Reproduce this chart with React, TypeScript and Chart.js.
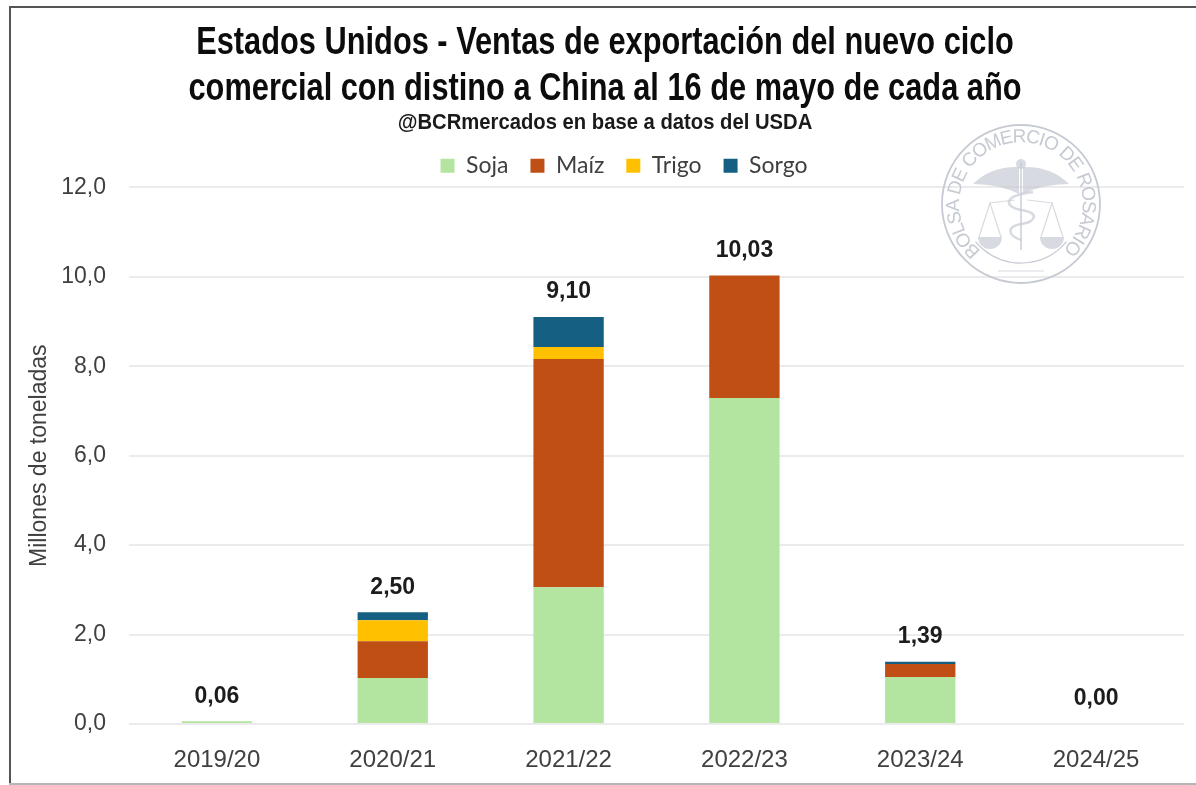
import React, { useEffect, useRef } from "react";
import { Chart, registerables } from "chart.js";

Chart.register(...registerables);

const categories = ["2019/20", "2020/21", "2021/22", "2022/23", "2023/24", "2024/25"];
const soja = [0.06, 1.03, 3.06, 7.29, 1.05, 0];
const maiz = [0, 0.82, 5.10, 2.74, 0.29, 0];
const trigo = [0, 0.47, 0.27, 0, 0, 0];
const sorgo = [0, 0.18, 0.67, 0, 0.05, 0];
const totals = [0.06, 2.5, 9.1, 10.03, 1.39, 0];
const titleLines = [
  "Estados Unidos - Ventas de exportación del nuevo ciclo",
  "comercial con distino a China al 16 de mayo de cada año",
];
const subtitleText = "@BCRmercados en base a datos del USDA";
const sealText = "BOLSA DE COMERCIO DE ROSARIO";

const comma = (v: number, d: number) => v.toFixed(d).replace(".", ",");

// Draw a native title box horizontally condensed about its own centre.
function condense(box: any, k: number) {
  if (!box || box.__condensed) return;
  box.__condensed = true;
  const draw = box.draw.bind(box);
  box.draw = () => {
    const c = box.ctx;
    const mid = (box.left + box.right) / 2;
    c.save();
    c.translate(mid, 0);
    c.scale(k, 1);
    c.translate(-mid, 0);
    draw();
    c.restore();
  };
}

const framePlugin = {
  id: "frame",
  beforeDraw(chart: any) {
    const c = chart.ctx;
    c.save();
    c.fillStyle = "#fff";
    c.fillRect(0, 0, chart.width, chart.height);
    c.fillStyle = "#555";
    c.fillRect(9, 6, chart.width - 9, 2);
    c.fillRect(9, 6, 2, 778);
    c.fillStyle = "#b5b5b5";
    c.fillRect(9, 783, chart.width - 9, 2);
    c.restore();
  },
  afterLayout(chart: any) {
    chart.legend.left += 19;
    chart.legend.right += 19;
    condense(chart.titleBlock, 0.81);
    const sub = chart.boxes.find((b: any) => b.options && b.options.text === subtitleText);
    condense(sub, 0.92);
  },
};

const sealPlugin = {
  id: "seal",
  afterDatasetsDraw(chart: any) {
    const c = chart.ctx;
    const cx = 1021;
    const cy = 204;
    const col = "#c6cad3";
    c.save();
    c.strokeStyle = col;
    c.fillStyle = col;
    c.lineWidth = 1.8;
    c.beginPath();
    c.arc(cx, cy, 79, 0, Math.PI * 2);
    c.stroke();
    c.lineWidth = 1.2;
    c.beginPath();
    c.arc(cx, cy, 59, Math.PI * 0.22, Math.PI * 0.78);
    c.stroke();
    c.font = "19px 'Liberation Sans'";
    c.textAlign = "center";
    c.textBaseline = "middle";
    const r = 67;
    const arcLen = (276 * Math.PI * r) / 180;
    const chars = sealText.split("");
    const widths = chars.map((ch) => c.measureText(ch).width);
    const sum = widths.reduce((a, b) => a + b, 0);
    const gap = (arcLen - sum) / (chars.length - 1);
    let pos = 0;
    chars.forEach((ch, i) => {
      const a = (-139 * Math.PI) / 180 + (pos + widths[i] / 2) / r;
      c.save();
      c.translate(cx + r * Math.sin(a), cy - r * Math.cos(a));
      c.rotate(a);
      c.fillText(ch, 0, 0);
      c.restore();
      pos += widths[i] + gap;
    });
    c.globalAlpha = 0.7;
    for (const s of [-1, 1]) {
      c.beginPath();
      c.moveTo(cx + s * 2, cy - 37);
      c.quadraticCurveTo(cx + s * 30, cy - 38, cx + s * 48, cy - 20);
      c.quadraticCurveTo(cx + s * 22, cy - 20, cx + s * 2, cy - 10);
      c.closePath();
      c.fill();
      c.lineWidth = 1.2;
      c.beginPath();
      c.moveTo(cx + s * 6, cy - 4);
      c.lineTo(cx + s * 32, cy - 1);
      c.moveTo(cx + s * 31, cy - 1);
      c.lineTo(cx + s * 20, cy + 33);
      c.moveTo(cx + s * 31, cy - 1);
      c.lineTo(cx + s * 42, cy + 33);
      c.stroke();
      c.beginPath();
      c.arc(cx + s * 31, cy + 33, 12, 0, Math.PI);
      c.closePath();
      c.fill();
    }
    c.lineWidth = 2;
    c.beginPath();
    c.moveTo(cx, cy - 42);
    c.lineTo(cx, cy + 46);
    c.stroke();
    c.beginPath();
    c.arc(cx, cy - 40, 5, 0, Math.PI * 2);
    c.fill();
    c.lineWidth = 2.5;
    c.beginPath();
    c.moveTo(cx + 12, cy - 12);
    c.bezierCurveTo(cx - 20, cy - 8, cx - 16, cy + 3, cx, cy + 6);
    c.bezierCurveTo(cx + 20, cy + 9, cx + 14, cy + 18, cx, cy + 20);
    c.bezierCurveTo(cx - 16, cy + 23, cx - 12, cy + 32, cx, cy + 36);
    c.stroke();
    c.lineWidth = 1;
    c.beginPath();
    c.moveTo(cx - 23, cy + 67);
    c.lineTo(cx + 23, cy + 67);
    c.stroke();
    c.restore();
  },
};

const totalsPlugin = {
  id: "totals",
  afterDatasetsDraw(chart: any) {
    const c = chart.ctx;
    const x = chart.scales.x;
    const y = chart.scales.y;
    c.save();
    c.font = "bold 23px 'Liberation Sans'";
    c.fillStyle = "#1c1c1c";
    c.textAlign = "center";
    c.textBaseline = "middle";
    totals.forEach((t, i) => {
      c.fillText(comma(t, 2), x.getPixelForValue(i), y.getPixelForValue(t) - 25);
    });
    c.restore();
  },
};

export default function App() {
  const ref = useRef<HTMLCanvasElement>(null);
  useEffect(() => {
    const chart = new Chart(ref.current as HTMLCanvasElement, {
      type: "bar",
      data: {
        labels: categories,
        datasets: [
          { label: "Soja", data: soja, backgroundColor: "#B3E5A1" },
          { label: "Maíz", data: maiz, backgroundColor: "#C04F15" },
          { label: "Trigo", data: trigo, backgroundColor: "#FFC000" },
          { label: "Sorgo", data: sorgo, backgroundColor: "#156082" },
        ],
      },
      options: {
        responsive: false,
        animation: false,
        layout: { padding: { top: 21, right: 12, left: 26, bottom: 0 } },
        datasets: { bar: { categoryPercentage: 1, barPercentage: 0.4 } },
        plugins: {
          tooltip: { enabled: false },
          title: {
            display: true,
            text: titleLines,
            color: "#0c0c0c",
            font: { family: "'Liberation Sans'", size: 38, weight: "bold", lineHeight: 1.21 },
            padding: { top: 0, bottom: 0 },
          },
          subtitle: {
            display: true,
            text: subtitleText,
            color: "#1a1a1a",
            font: { family: "'Liberation Sans'", size: 22, weight: "bold" },
            padding: { top: -3, bottom: -4 },
          },
          legend: {
            position: "top",
            labels: {
              color: "#404040",
              font: { family: "Lato", size: 23 },
              boxWidth: 14,
              boxHeight: 14,
              padding: 22,
            },
          },
        },
        scales: {
          x: {
            stacked: true,
            grid: { display: false },
            border: { display: false },
            ticks: { color: "#404040", font: { family: "'Liberation Sans'", size: 24 }, padding: 14, maxRotation: 0 },
            afterFit(s: any) {
              s.height = 61;
            },
          },
          y: {
            stacked: true,
            min: 0,
            max: 12,
            grid: { color: "#ebebeb", lineWidth: 2, drawTicks: false },
            border: { display: false },
            afterFit(s: any) {
              s.width = 103;
            },
            ticks: {
              stepSize: 2,
              color: "#404040",
              font: { family: "'Liberation Sans'", size: 23 },
              padding: 23,
              callback: (v: any) => comma(Number(v), 1),
            },
            title: {
              display: true,
              text: "Millones de toneladas",
              color: "#404040",
              font: { family: "'Liberation Sans'", size: 23 },
              padding: { top: 0, bottom: 0 },
            },
          },
        },
      },
      plugins: [framePlugin, sealPlugin, totalsPlugin],
    } as any);
    return () => chart.destroy();
  }, []);
  return (
    <div style={{ position: "absolute", left: 0, top: 0, width: 1196, height: 785, background: "#fff" }}>
      <canvas ref={ref} width={1196} height={785} style={{ display: "block" }} />
    </div>
  );
}
